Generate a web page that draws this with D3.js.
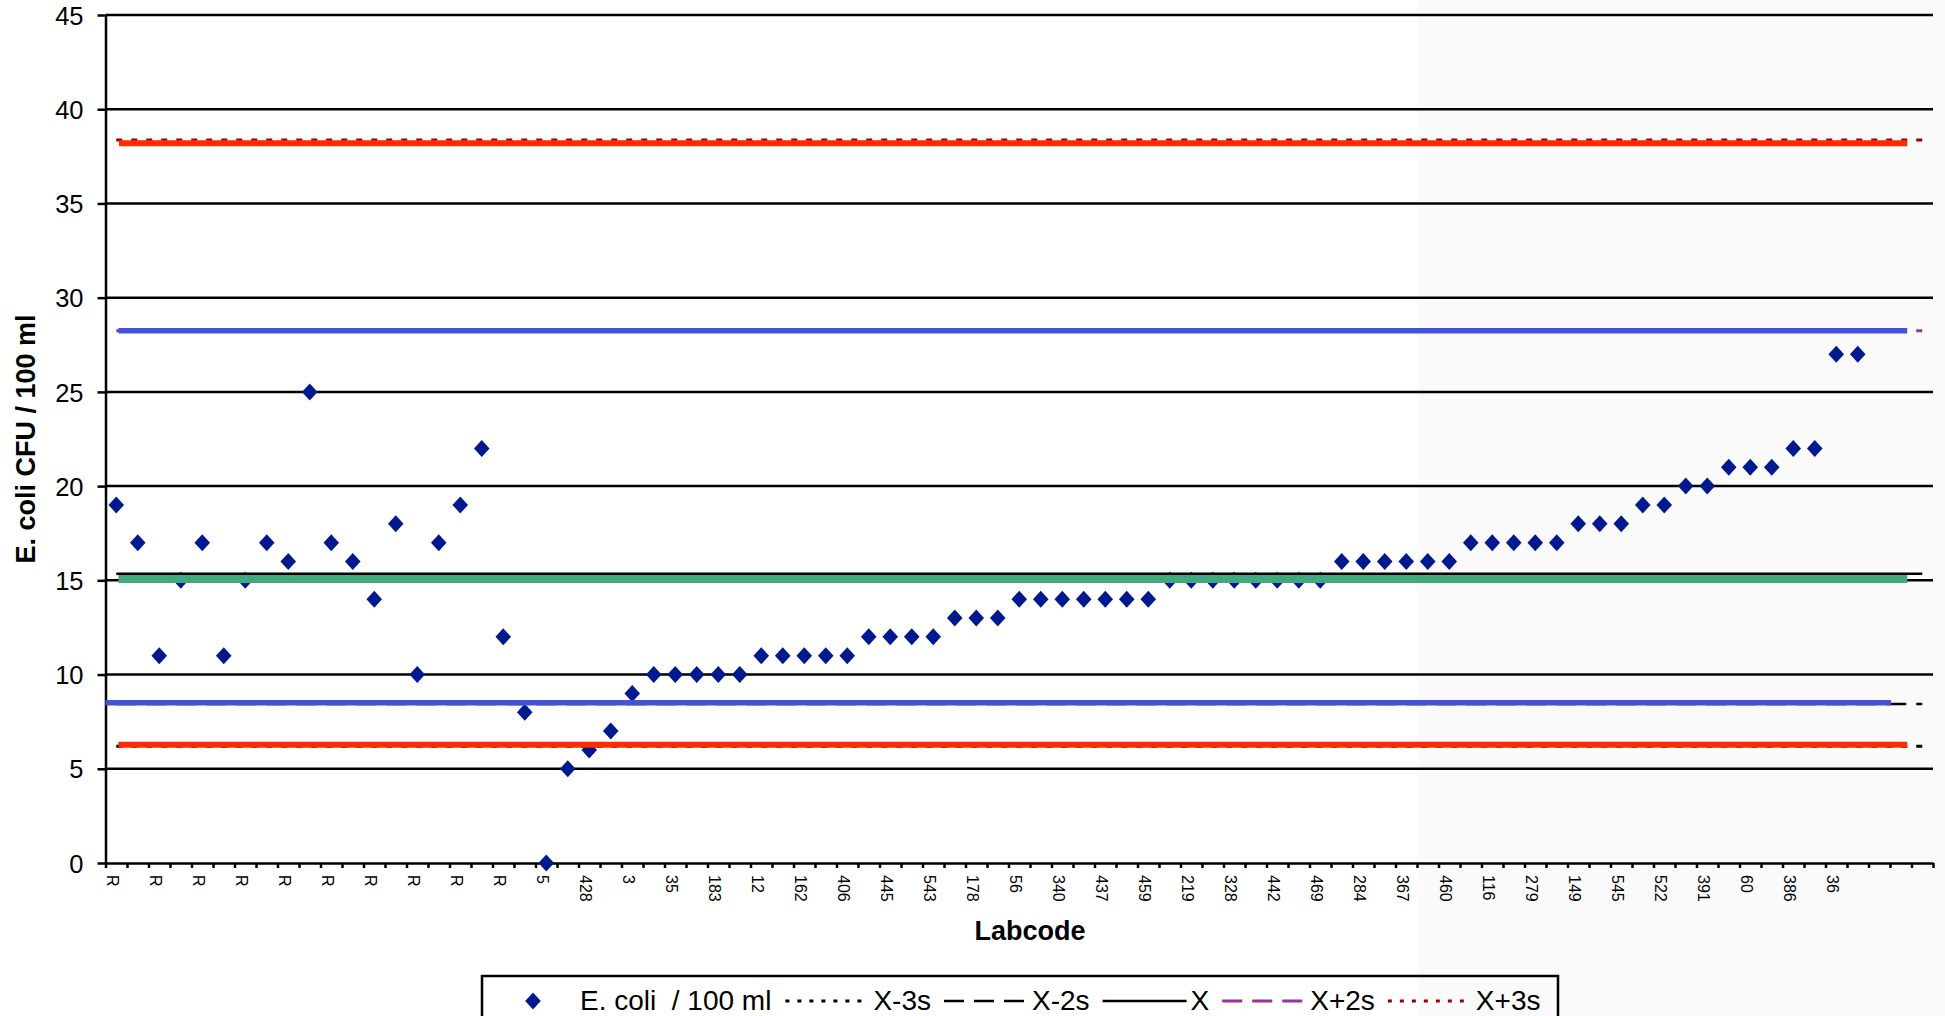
<!DOCTYPE html>
<html>
<head>
<meta charset="utf-8">
<script src="https://cdn.jsdelivr.net/npm/d3@7"></script>
<style>
  html, body { margin: 0; padding: 0; background: #fff; }
  svg { display: block; font-family: Arial, "Liberation Sans", sans-serif; }
</style>
</head>
<body>
<svg id="chart" width="1945" height="1016"></svg>
<script>
// E. coli counts per lab, sorted (reference labs "R" first)
const values = [
  19, 17, 11, 15, 17, 11, 15, 17, 16, 25, 17, 16, 14, 18, 10, 17, 19, 22, 12, 8,
  0, 5, 6, 7, 9, 10, 10, 10, 10, 10, 11, 11, 11, 11, 11, 12, 12, 12, 12, 13,
  13, 13, 14, 14, 14, 14, 14, 14, 14, 15, 15, 15, 15, 15, 15, 15, 15, 16, 16, 16,
  16, 16, 16, 17, 17, 17, 17, 17, 18, 18, 18, 19, 19, 20, 20, 21, 21, 21, 22, 22,
  27, 27
]
const categoryCount = 85

// only every second category gets a label
const shownLabels = [
  'R', 'R', 'R', 'R', 'R', 'R', 'R', 'R', 'R', 'R',
  '5', '428', '3', '35', '183', '12', '162', '406', '445', '543',
  '178', '56', '340', '437', '459', '219', '328', '442', '469', '284',
  '367', '460', '116', '279', '149', '545', '522', '391', '60', '386', '36'
]

const yTicks = [0, 5, 10, 15, 20, 25, 30, 35, 40, 45]

// statistical reference lines (series in the legend)
const refNames = ['X-3s', 'X-2s', 'X', 'X+2s', 'X+3s']
const refValues = [6.2, 8.44, 15.35, 28.25, 38.37]

// highlighted limit bands drawn on top of the chart
const limitValues = [38.2, 28.25, 15.07, 8.5, 6.28]
const limitStart = [0.13, 0.1, 0.1, -0.5, 0.1]
const limitEnd = [83.3, 83.3, 83.3, 82.55, 83.3]

const refStyle = {
  'X-3s': { color: '#000', dash: '6,9', width: 3 },
  'X-2s': { color: '#000', dash: '20,10', width: 2.5 },
  'X': { color: '#000', dash: null, width: 2.5 },
  'X+2s': { color: '#993399', dash: '20,10', width: 3 },
  'X+3s': { color: '#990000', dash: '6,9', width: 3 },
}
const limitStyle = [
  { color: '#ff2a00', width: 6 },
  { color: '#4652d6', width: 5.5 },
  { color: '#41a97c', width: 8 },
  { color: '#4652d6', width: 5.5 },
  { color: '#ff2a00', width: 6 },
]
const markerColor = '#00198f'

const svg = d3.select('#chart')
const plot = { left: 105.5, right: 1933, top: 15, bottom: 863 }

// faint grey panel on the right of the screenshot
svg.append('rect')
  .attr('x', 1417).attr('y', 0).attr('width', 1945 - 1417).attr('height', 1016)
  .attr('fill', '#fafafa')

const x = d3.scaleLinear().domain([-0.5, categoryCount - 0.5]).range([plot.left, plot.right])
const y = d3.scaleLinear().domain([0, 45]).range([plot.bottom, plot.top])

// gridlines
svg.append('g')
  .selectAll('line')
  .data(yTicks.filter((d) => d > 0))
  .join('line')
  .attr('x1', plot.left).attr('x2', plot.right)
  .attr('y1', (d) => y(d)).attr('y2', (d) => y(d))
  .attr('stroke', '#000').attr('stroke-width', 2.5)

// y axis
const yAxisG = svg.append('g')
  .attr('transform', `translate(${plot.left},0)`)
  .call(d3.axisLeft(y).tickValues(yTicks).tickSize(8).tickSizeOuter(0).tickPadding(14))
yAxisG.selectAll('path, line').attr('stroke', '#000').attr('stroke-width', 2.5)
yAxisG.selectAll('text')
  .attr('fill', '#000').style('font-size', '25.5px')
  .attr('dy', '0.36em')

// x axis (ticks on category boundaries)
const xAxisG = svg.append('g')
  .attr('transform', `translate(0,${plot.bottom})`)
  .call(d3.axisBottom(x)
    .tickValues(d3.range(-0.5, categoryCount, 1))
    .tickSize(5).tickSizeOuter(0).tickFormat(''))
xAxisG.selectAll('path, line').attr('stroke', '#000').attr('stroke-width', 2.5)

svg.append('g')
  .selectAll('text')
  .data(shownLabels)
  .join('text')
  .attr('transform', (d, i) => `translate(${x(i * 2) - 9.5},875) rotate(90)`)
  .attr('text-anchor', 'start')
  .style('font-size', '16px')
  .attr('fill', '#000')
  .text((d) => d)

// data points
const diamond = 'M0,-8.5L7.8,0L0,8.5L-7.8,0Z'
svg.append('g')
  .selectAll('path')
  .data(values)
  .join('path')
  .attr('d', diamond)
  .attr('transform', (d, i) => `translate(${x(i)},${y(d)})`)
  .attr('fill', markerColor)

// reference lines X +/- ks
svg.append('g')
  .selectAll('line')
  .data(refNames)
  .join('line')
  .attr('x1', x(0)).attr('x2', x(categoryCount - 1))
  .attr('y1', (d, i) => y(refValues[i])).attr('y2', (d, i) => y(refValues[i]))
  .attr('stroke', (d) => refStyle[d].color)
  .attr('stroke-width', (d) => refStyle[d].width)
  .attr('stroke-dasharray', (d) => refStyle[d].dash)

// thick limit bands
svg.append('g')
  .selectAll('line')
  .data(limitValues)
  .join('line')
  .attr('x1', (d, i) => x(limitStart[i])).attr('x2', (d, i) => x(limitEnd[i]))
  .attr('y1', (d) => y(d)).attr('y2', (d) => y(d))
  .attr('stroke', (d, i) => limitStyle[i].color)
  .attr('stroke-width', (d, i) => limitStyle[i].width)

// axis titles
svg.append('text')
  .attr('x', 1030).attr('y', 940)
  .attr('text-anchor', 'middle')
  .style('font-size', '27px').style('font-weight', 'bold')
  .text('Labcode')

svg.append('text')
  .attr('transform', 'translate(35,439) rotate(-90)')
  .attr('text-anchor', 'middle')
  .style('font-size', '27px').style('font-weight', 'bold')
  .text('E. coli CFU / 100 ml')

// legend
const legend = svg.append('g')
legend.append('rect')
  .attr('x', 482).attr('y', 976).attr('width', 1076).attr('height', 70)
  .attr('fill', 'none').attr('stroke', '#000').attr('stroke-width', 2.5)

const legendY = 1001
const legendBase = 1010
const legendFont = '28px'
legend.append('path')
  .attr('d', diamond)
  .attr('transform', `translate(533,${legendY})`)
  .attr('fill', markerColor)

let cursor = 580
const firstText = legend.append('text')
  .attr('x', cursor).attr('y', legendBase)
  .attr('xml:space', 'preserve')
  .style('font-size', legendFont)
  .style('white-space', 'pre')
  .text('E. coli  / 100 ml')
cursor += firstText.node().getComputedTextLength() + 14

refNames.forEach((name) => {
  const st = refStyle[name]
  legend.append('line')
    .attr('x1', cursor).attr('x2', cursor + 84)
    .attr('y1', legendY).attr('y2', legendY)
    .attr('stroke', st.color)
    .attr('stroke-width', st.width)
    .attr('stroke-dasharray', st.dash === '6,9' ? '4,8' : st.dash)
  cursor += 88
  const t = legend.append('text')
    .attr('x', cursor).attr('y', legendBase)
    .style('font-size', legendFont)
    .text(name)
  cursor += t.node().getComputedTextLength() + 13
})
</script>
</body>
</html>
